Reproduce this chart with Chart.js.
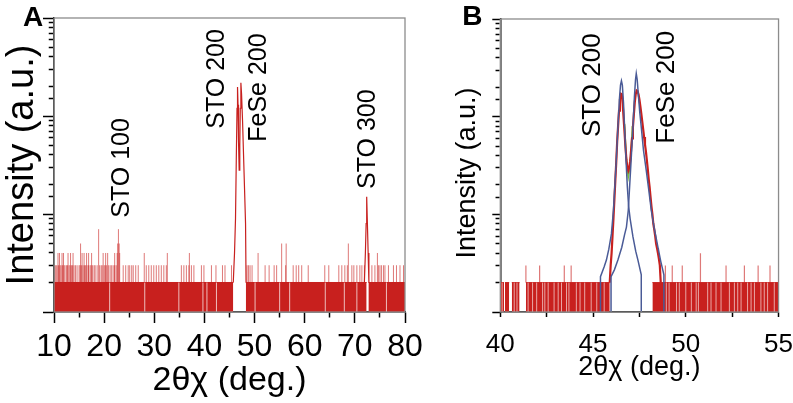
<!DOCTYPE html>
<html>
<head>
<meta charset="utf-8">
<script src="https://cdn.jsdelivr.net/npm/chart.js@4.4.0/dist/chart.umd.min.js"></script>
<style>
  html, body { margin: 0; padding: 0; background: #fff; overflow: hidden; }
  #wrap { position: relative; width: 793px; height: 403px; }
  #chartA { position: absolute; left: 0; top: 0; }
  #chartB { position: absolute; left: 420px; top: 0; }
</style>
</head>
<body>
<div id="wrap">
  <canvas id="chartA" width="440" height="403"></canvas>
  <canvas id="chartB" width="385" height="403"></canvas>
</div>
<script>
// ---------- panel A : wide 2theta-chi scan (counts, log axis) ----------
const aTickLabels = [10, 20, 30, 40, 50, 60, 70, 80];
// background counts sit at 2 over these ranges
const aBand = [[10, 45.75], [48.25, 72.35], [72.7, 80]];
const aSpikes3 = [10.2, 10.4, 10.6, 10.9, 11.2, 11.4, 11.7, 12.0, 12.2, 12.5, 12.7, 13.0, 13.2, 13.5,
  13.7, 14.0, 14.3, 14.6, 15.0, 15.2, 15.5, 15.8, 16.1, 16.3, 16.6, 16.9, 17.2, 17.4, 17.7, 18.0,
  18.2, 18.6, 19.1, 19.4, 19.6, 20.0, 20.2, 20.5, 20.9, 21.2, 21.5, 21.8, 22.1, 22.4,
  23.8, 24.3, 24.8, 25.1, 25.5, 25.8, 26.3, 26.8, 28.4, 28.9, 29.4, 29.9, 30.4, 30.9, 31.4, 31.9,
  32.4, 35.4, 35.9, 36.4, 36.9, 37.4, 37.9, 39.4, 39.9, 41.4, 42.3, 43.6, 44.1, 45.4,
  48.5, 48.8, 49.1, 49.5, 52.1, 52.9, 53.9, 54.4, 56.2, 57.7, 58.3, 58.8, 59.4, 60.7,
  64.0, 64.8, 66.8, 67.4, 68.0, 68.5, 69.4, 69.8, 70.4, 71.0, 71.4, 71.9, 73.4, 74.0, 74.7,
  75.0, 75.3, 75.7, 76.0, 76.7, 77.7, 78.3, 79.0, 79.7];
const aSpikes4 = [10.8, 11.1, 11.6, 11.9, 12.8, 13.3, 13.8, 15.6, 16.0, 16.5, 16.9, 17.5, 19.8,
  20.3, 20.7, 22.1, 22.6, 23.1, 28.0, 32.6, 37.0, 50.7, 74.5];
const aSpikes5 = [15.3, 22.7, 23.0, 55.4, 56.3, 68.7];
const aSpikes7 = [18.9, 22.85];
const aDips = [21.1, 28.1, 34.9, 39.7, 40.5, 42.4, 50.1, 55.0, 57.0, 64.1, 67.9, 70.4, 76.3];
// STO 200 / FeSe 200 doublet and STO 300
const aPeakX = [45.75, 46.0, 46.2, 46.35, 46.5, 46.6, 46.7, 46.8, 46.93, 47.05, 47.15, 47.27,
  47.4, 47.6, 47.8, 48.0, 48.2, 48.3];
const aPeakY = [2, 4, 9, 35, 120, 198, 130, 55, 28, 50, 120, 218, 170, 90, 40, 18, 8, 2];
const aSto300X = [71.9, 72.1, 72.25, 72.36, 72.5, 72.65, 72.8];
const aSto300Y = [2, 4, 8, 15, 8, 4, 2];

// ---------- panel B : zoom on the doublet with fits ----------
const bTickLabels = [40, 45, 50, 55];
const bBand = [[40.0, 40.2], [40.25, 40.48], [40.62, 41.04], [41.38, 45.9], [48.2, 55]];
const bSpikes3 = [41.38, 42.12, 43.45, 43.82, 48.9, 49.27, 49.81, 52.17, 53.16, 53.9, 54.54];
const bSpikes4 = [50.79];
const bDips = [40.1, 40.75, 40.9, 41.5, 41.74, 41.96, 42.28, 42.4, 42.58, 42.9, 43.12, 43.3,
  43.57, 43.7, 44.1, 44.3, 44.55, 44.9, 45.2, 45.6, 48.95, 49.1, 49.5, 49.65, 50.0, 50.3,
  50.56, 50.68, 51.18, 51.36, 51.63, 51.9, 52.35, 52.62, 52.8, 52.98, 53.33, 53.52, 53.7,
  54.05, 54.23, 54.41, 54.77];
const bPeakX = [45.90, 45.95, 46.00, 46.05, 46.10, 46.15, 46.20, 46.25, 46.30, 46.35, 46.40,
  46.45, 46.50, 46.55, 46.60, 46.65, 46.70, 46.75, 46.80, 46.85, 46.90, 46.95, 47.00, 47.05,
  47.10, 47.15, 47.20, 47.25, 47.30, 47.35, 47.40, 47.45, 47.50, 47.55, 47.60, 47.65, 47.70,
  47.75, 47.80, 47.85, 47.90, 47.95, 48.00, 48.05, 48.10, 48.15, 48.20, 48.25, 48.30, 48.35,
  48.40, 48.45, 48.50, 48.55, 48.60, 48.65];
const bPeakY = [2, 3, 4, 6, 9, 14, 22, 34, 55, 80, 115, 150, 172, 170, 135, 95, 68, 48, 36, 30,
  28, 30, 35, 45, 60, 78, 105, 140, 170, 185, 182, 170, 150, 128, 108, 90, 75, 62, 52, 44,
  36, 29, 23, 19, 15, 12, 10, 8, 7, 6, 5, 4.5, 4, 3.5, 3, 2];
const bStoX = [45.40, 45.40, 45.60, 45.72, 45.85, 45.99, 46.10, 46.17, 46.25, 46.34, 46.42, 46.48,
  46.53, 46.58, 46.64, 46.70, 46.78, 46.85, 46.92, 47.00, 47.15, 47.30, 47.42, 47.60, 47.60];
const bStoY = [1, 2.3, 2.9, 3.4, 4.4, 6.3, 11, 19, 35, 78, 150, 210, 233, 210, 140, 78, 35, 19,
  12, 9, 5.9, 4.2, 3.4, 2.4, 1];
const bFeSeX = [45.97, 45.97, 46.15, 46.34, 46.55, 46.70, 46.80, 46.90, 46.97, 47.05, 47.15, 47.23,
  47.29, 47.33, 47.38, 47.45, 47.52, 47.60, 47.72, 47.87, 48.00, 48.14, 48.30, 48.50, 48.65,
  48.82, 48.82];
const bFeSeY = [1, 2.3, 2.7, 3.4, 4.6, 6.2, 7.4, 11, 19, 35, 78, 160, 240, 277, 240, 160, 110, 78,
  45, 28, 18, 11, 7.2, 4.6, 3.3, 2.4, 1];
const bSumX = [46.70, 46.78, 46.85, 46.90, 46.97, 47.05, 47.12];
const bSumY = [84, 42, 28, 24, 29, 43, 80];

const FONT = '"Liberation Sans", Arial, Helvetica, sans-serif';
const RED = '#c8201e';
const RED_SPIKE = 'rgba(200, 32, 30, 0.6)';
const BLUE = '#4a5b97';
const GREEN = '#7cbf3c';

Chart.defaults.font.family = FONT;
Chart.defaults.elements.point.radius = 0;
Chart.defaults.elements.line.tension = 0;

const xy = (xs, ys) => xs.map((x, i) => ({x, y: ys[i]}));
// vertical sticks from one count level to another
const sticks = (xs, from, to) => xs.flatMap(x => [{x, y: from}, {x, y: to}, {x, y: null}]);
const isDecade = v => Math.abs(Math.log10(v) - Math.round(Math.log10(v))) < 1e-9;

function lineSet(data, color, width) {
  return {data, borderColor: color, borderWidth: width, fill: false, spanGaps: false};
}
function bandSets(band) {
  return band.map(([a, b]) => ({
    data: [{x: a, y: 2}, {x: b, y: 2}],
    borderColor: RED, borderWidth: 1, backgroundColor: RED, fill: 'start'
  }));
}

// peak labels, panel letter and grey frame
function overlay(labels, size, letter, dx, dy) {
  return {
    id: 'overlay',
    afterDatasetsDraw(chart) {
      const {ctx, chartArea: ca, scales: {x, y}} = chart;
      ctx.save();
      ctx.strokeStyle = '#8c8c8c';
      ctx.lineWidth = 1.3;
      ctx.strokeRect(ca.left, ca.top, ca.right - ca.left, ca.bottom - ca.top);
      ctx.fillStyle = '#000';
      ctx.textAlign = 'center';
      ctx.textBaseline = 'middle';
      ctx.font = size + 'px ' + FONT;
      labels.forEach(l => {
        ctx.save();
        ctx.translate(x.getPixelForValue(l.x), y.getPixelForValue(l.y));
        ctx.rotate(-Math.PI / 2);
        ctx.fillText(l.text, 0, 0);
        ctx.restore();
      });
      ctx.font = 'bold 28px ' + FONT;
      ctx.fillText(letter, ca.left + dx, ca.top + dy);
      ctx.restore();
    }
  };
}

function scalesFor(o) {
  return {
    x: {
      type: 'linear', min: o.xmin, max: o.xmax, z: 1,
      border: {color: '#000', width: 1.5},
      grid: {
        drawOnChartArea: false, tickLength: o.xTick, tickColor: '#000', tickWidth: 1.5,
        tickBorderDash: c => (c.tick && !o.xLabels.includes(c.tick.value) && o.xMinor) ? [o.xMinor, 100] : []
      },
      ticks: {
        stepSize: o.xStep, autoSkip: false, maxRotation: 0, minRotation: 0,
        padding: o.xPad, color: '#000', font: {size: o.xFont},
        callback: v => o.xLabels.includes(v) ? v : ''
      },
      title: {display: true, text: '2θχ (deg.)', color: '#000',
        font: {size: o.xTitleFont}, padding: {top: 0, bottom: o.xTitlePad}},
      afterFit: s => { s.height = 91; }
    },
    y: {
      type: 'logarithmic', min: 1, max: 1000, z: 1,
      border: {color: '#000', width: 1.5},
      grid: {
        drawOnChartArea: false, tickLength: o.yTick, tickColor: '#000', tickWidth: 1.5,
        tickBorderDash: c => (c.tick && !isDecade(c.tick.value)) ? [0, o.yTick - 0.75 - o.yMinor, o.yMinor, 100] : []
      },
      ticks: {display: false},
      title: {display: true, text: o.yTitle, color: '#000',
        font: {size: o.yTitleFont}, padding: {top: o.yTitlePad, bottom: 0}},
      afterFit: s => { s.width = o.yWidth; }
    }
  };
}

new Chart(document.getElementById('chartA'), {
  type: 'line',
  data: {
    datasets: [
      lineSet(xy(aPeakX, aPeakY), RED, 1.2),
      lineSet(xy(aSto300X, aSto300Y), RED, 1.2),
      lineSet(sticks(aSpikes7, 2, 7), RED_SPIKE, 1),
      lineSet(sticks(aSpikes5, 2, 5), RED_SPIKE, 1),
      lineSet(sticks(aSpikes4, 2, 4), RED_SPIKE, 1),
      lineSet(sticks(aSpikes3, 2, 3), RED_SPIKE, 1),
      lineSet(sticks(aDips, 1, 2), 'rgba(255,255,255,0.7)', 1),
      ...bandSets(aBand)
    ]
  },
  options: {
    responsive: false, animation: false, events: [],
    layout: {padding: {left: 0, top: 18, right: 35, bottom: 0}},
    plugins: {legend: {display: false}, tooltip: {enabled: false}},
    scales: scalesFor({
      xmin: 10, xmax: 80, xStep: 5, xLabels: aTickLabels, xTick: 11, xMinor: 5, xPad: 5,
      xFont: 32, xTitleFont: 34, xTitlePad: 1.5,
      yTick: 11, yMinor: 4.5, yTitle: 'Intensity (a.u.)', yTitleFont: 38, yTitlePad: 0, yWidth: 54
    })
  },
  plugins: [overlay([
    {text: 'STO 100', x: 23.5, y: 29.5},
    {text: 'STO 200', x: 42.5, y: 239},
    {text: 'FeSe 200', x: 50.9, y: 195},
    {text: 'STO 300', x: 72.7, y: 58}
  ], 25, 'A', -21, 0)]
});

new Chart(document.getElementById('chartB'), {
  type: 'line',
  data: {
    datasets: [
      lineSet(xy(bStoX, bStoY), BLUE, 1.5),
      lineSet(xy(bFeSeX, bFeSeY), BLUE, 1.5),
      lineSet(xy(bPeakX, bPeakY), RED, 2.2),
      lineSet(xy(bSumX, bSumY), GREEN, 1.5),
      lineSet(sticks(bSpikes4, 2, 4), RED_SPIKE, 1.2),
      lineSet(sticks(bSpikes3, 2, 3), RED_SPIKE, 1.2),
      lineSet(sticks(bDips, 1, 2), 'rgba(255,255,255,0.6)', 1),
      ...bandSets(bBand)
    ]
  },
  options: {
    responsive: false, animation: false, events: [],
    layout: {padding: {left: 30, top: 19, right: 25.7, bottom: 0}},
    plugins: {legend: {display: false}, tooltip: {enabled: false}},
    scales: scalesFor({
      xmin: 40, xmax: 55, xStep: 2.5, xLabels: bTickLabels, xTick: 5, xMinor: 0, xPad: 12,
      xFont: 26, xTitleFont: 27, xTitlePad: 19,
      yTick: 8, yMinor: 4, yTitle: 'Intensity (a.u.)\u00a0\u00a0', yTitleFont: 27, yTitlePad: 1, yWidth: 50.3
    })
  },
  plugins: [overlay([
    {text: 'STO 200', x: 44.98, y: 210},
    {text: 'FeSe 200', x: 48.96, y: 200}
  ], 26, 'B', -28, -2)]
});
</script>
</body>
</html>
